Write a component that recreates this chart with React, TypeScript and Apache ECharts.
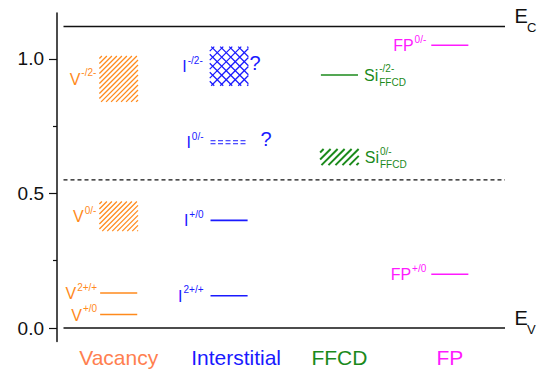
import { useEffect, useRef } from 'react';
import * as echarts from 'echarts';

const FONT = '"Liberation Sans", Arial, Helvetica, sans-serif';

// Defect families along the x axis
const categories = ['Vacancy', 'Interstitial', 'FFCD', 'FP'];

// Energy axis (eV above the valence band edge)
const yLabelValues = [0, 0.5, 1.0];
const yMinorTickValues = [0.25, 0.75];

// Band edges and midgap reference
const bandEdges = [
  { sub: 'C', energy: 1.12 },
  { sub: 'V', energy: 0 },
];
const midgapEnergy = 0.55;

type Level = { lo: number; hi: number; main: string; sup: string; sub?: string; uncertain?: boolean };

// A level with lo === hi is a sharp level; otherwise it is an energy range
const vacancyLevels: Level[] = [
  { lo: 0.84, hi: 1.01, main: 'V', sup: '-/2-' },
  { lo: 0.36, hi: 0.47, main: 'V', sup: '0/-' },
  { lo: 0.13, hi: 0.13, main: 'V', sup: '2+/+' },
  { lo: 0.05, hi: 0.05, main: 'V', sup: '+/0' },
];
const interstitialLevels: Level[] = [
  { lo: 0.9, hi: 1.045, main: 'I', sup: '-/2-', uncertain: true },
  { lo: 0.69, hi: 0.69, main: 'I', sup: '0/-', uncertain: true },
  { lo: 0.4, hi: 0.4, main: 'I', sup: '+/0' },
  { lo: 0.12, hi: 0.12, main: 'I', sup: '2+/+' },
];
const ffcdLevels: Level[] = [
  { lo: 0.94, hi: 0.94, main: 'Si', sup: '-/2-', sub: 'FFCD' },
  { lo: 0.605, hi: 0.665, main: 'Si', sup: '0/-', sub: 'FFCD' },
];
const fpLevels: Level[] = [
  { lo: 1.05, hi: 1.05, main: 'FP', sup: '0/-' },
  { lo: 0.2, hi: 0.2, main: 'FP', sup: '+/0' },
];

const levelsByCategory = [vacancyLevels, interstitialLevels, ffcdLevels, fpLevels];

// Presentation per family
const categoryLabelColors = ['#ff7f50', '#1a1aff', '#1b8a1b', '#ff1aff'];
const markColors = ['#ff8a1c', '#1a1aff', '#1b8a1b', '#ff1aff'];
const rangeFill = ['hatch', 'cross', 'hatchBold', 'hatch'];
const labelSide = ['left', 'left', 'right', 'left'];
const labelGap = [3, 7, 6, 5];

let measureCtx: CanvasRenderingContext2D | null = null;
function textWidth(s: string, size: number) {
  if (!measureCtx) measureCtx = document.createElement('canvas').getContext('2d');
  if (!measureCtx) return s.length * size * 0.55;
  measureCtx.font = `${size}px ${FONT}`;
  return measureCtx.measureText(s).width;
}

function hatch(x0: number, y0: number, x1: number, y1: number, step: number, dir: number, style: any) {
  const out: any[] = [];
  if (dir > 0) {
    // "/" strokes: x + y = c
    for (let c = x0 + y0 + step / 2; c < x1 + y1; c += step) {
      const xa = Math.max(x0, c - y1);
      const xb = Math.min(x1, c - y0);
      if (xb - xa < 0.5) continue;
      out.push({ type: 'line', shape: { x1: xa, y1: c - xa, x2: xb, y2: c - xb }, style });
    }
  } else {
    // "\" strokes: x - y = c
    for (let c = x0 - y1 + step / 2; c < x1 - y0; c += step) {
      const xa = Math.max(x0, c + y0);
      const xb = Math.min(x1, c + y1);
      if (xb - xa < 0.5) continue;
      out.push({ type: 'line', shape: { x1: xa, y1: xa - c, x2: xb, y2: xb - c }, style });
    }
  }
  return out;
}

function txt(x: number, y: number, text: string, size: number, color: string, align = 'left') {
  return {
    type: 'text',
    x,
    y,
    style: { text, fill: color, fontSize: size, fontFamily: FONT, align, verticalAlign: 'middle' },
  };
}

const levelRows: number[][] = [];
levelsByCategory.forEach((levels, ci) =>
  levels.forEach((lv, k) => levelRows.push([ci, lv.lo, lv.hi, k]))
);

const edgeRows = bandEdges.map((e, i) => [0, e.energy, i]);

export default function App() {
  const ref = useRef<HTMLDivElement>(null);

  useEffect(() => {
    if (!ref.current) return;
    const chart = echarts.init(ref.current, null, { renderer: 'svg' });

    const renderLevel = (_params: any, api: any) => {
      const ci = api.value(0);
      const lo = api.value(1);
      const hi = api.value(2);
      const lv = levelsByCategory[ci][api.value(3)];
      const [cx, yLo] = api.coord([ci, lo]);
      const yHi = api.coord([ci, hi])[1];
      const band = api.size([1, 0])[0];
      const color = markColors[ci];
      const children: any[] = [];
      const isRange = hi > lo;
      const half = band * (isRange ? 0.175 : 0.168);
      const x0 = cx - half;
      const x1 = cx + half;
      const yMid = (yLo + yHi) / 2;

      if (isRange) {
        const kind = rangeFill[ci];
        if (kind === 'cross') {
          const st = { stroke: color, lineWidth: 1.3 };
          children.push(...hatch(x0, yHi, x1, yLo, 9, 1, st), ...hatch(x0, yHi, x1, yLo, 9, -1, st));
        } else if (kind === 'hatchBold') {
          children.push(...hatch(x0, yHi, x1, yLo, 7, 1, { stroke: color, lineWidth: 2 }));
        } else {
          children.push(...hatch(x0, yHi, x1, yLo, 5, 1, { stroke: color, lineWidth: 1.3 }));
        }
      } else if (lv.uncertain) {
        const st = { stroke: color, lineWidth: 1, lineDash: [5, 2.5] };
        children.push(
          { type: 'line', shape: { x1: x0, y1: yMid - 1.5, x2: x1, y2: yMid - 1.5 }, style: st },
          { type: 'line', shape: { x1: x0, y1: yMid + 1.5, x2: x1, y2: yMid + 1.5 }, style: st }
        );
      } else {
        children.push({
          type: 'line',
          shape: { x1: x0, y1: yMid, x2: x1, y2: yMid },
          style: { stroke: color, lineWidth: 1.6 },
        });
      }

      // Label: main symbol with a superscript charge state and optional subscript
      const mainSize = 16;
      const smallSize = 10;
      const mainW = textWidth(lv.main, mainSize);
      const tailW = Math.max(textWidth(lv.sup, smallSize), lv.sub ? textWidth(lv.sub, smallSize) : 0);
      const start =
        labelSide[ci] === 'left' ? x0 - labelGap[ci] - (mainW + 1 + tailW) : x1 + labelGap[ci];
      children.push(txt(start, yMid + 0.5, lv.main, mainSize, color));
      children.push(txt(start + mainW + 1, yMid - 6, lv.sup, smallSize, color));
      if (lv.sub) children.push(txt(start + mainW + 1, yMid + 7.5, lv.sub, smallSize, color));

      if (lv.uncertain) {
        children.push(txt(x1 + (isRange ? 1 : 13), yMid - 3, '?', 20, color));
      }
      return { type: 'group', children };
    };

    const renderEdge = (params: any, api: any) => {
      const e = bandEdges[api.value(2)];
      const y = api.coord([0, api.value(1)])[1];
      const cs = params.coordSys;
      const xr = cs.x + cs.width;
      return {
        type: 'group',
        children: [
          { type: 'line', shape: { x1: cs.x, y1: y, x2: xr, y2: y }, style: { stroke: '#111', lineWidth: 1.5 } },
          txt(xr + 9.5, y - 10, 'E', 20, '#111'),
          txt(xr + 22, y + 1, e.sub, 13, '#111'),
        ],
      };
    };

    const renderMidgap = (params: any, api: any) => {
      const y = api.coord([0, api.value(1)])[1];
      const cs = params.coordSys;
      return {
        type: 'line',
        shape: { x1: cs.x, y1: y, x2: cs.x + cs.width, y2: y },
        style: { stroke: '#111', lineWidth: 1.2, lineDash: [4, 3] },
      };
    };

    const yMin = -0.05;
    const yMax = 1.17;

    chart.setOption({
      animation: false,
      grid: { left: 63.5, right: 34, top: 13, bottom: 28.5 },
      xAxis: {
        type: 'category',
        data: categories,
        axisLine: { show: false },
        axisTick: { show: false },
        axisLabel: {
          margin: 5,
          formatter: (v: string, i: number) => `{c${i}|${v}}`,
          rich: Object.fromEntries(
            categories.map((_, i) => [
              `c${i}`,
              {
                color: categoryLabelColors[i],
                fontSize: 21,
                fontFamily: FONT,
                padding: i === 1 ? [0, 0, 0, 14] : 0,
              },
            ])
          ),
        },
      },
      yAxis: [
        {
          type: 'value',
          min: yMin,
          max: yMax,
          offset: 6.5,
          splitLine: { show: false },
          axisLine: { show: true, lineStyle: { color: '#111', width: 1.5 } },
          axisTick: { show: true, length: 8, customValues: yLabelValues, lineStyle: { color: '#111', width: 1.2 } },
          axisLabel: {
            customValues: yLabelValues,
            formatter: (v: number) => v.toFixed(1),
            fontSize: 19,
            fontFamily: FONT,
            color: '#111',
            margin: 13,
          },
        },
        {
          type: 'value',
          min: yMin,
          max: yMax,
          offset: 6.5,
          position: 'left',
          splitLine: { show: false },
          axisLine: { show: false },
          axisLabel: { show: false },
          axisTick: { show: true, length: 4, customValues: yMinorTickValues, lineStyle: { color: '#111', width: 1.2 } },
        },
      ],
      series: [
        {
          type: 'custom',
          renderItem: renderMidgap,
          data: [[0, midgapEnergy]],
          encode: { x: 0, y: 1 },
          silent: true,
        },
        {
          type: 'custom',
          renderItem: renderEdge,
          data: edgeRows,
          encode: { x: 0, y: 1 },
          silent: true,
        },
        {
          type: 'custom',
          renderItem: renderLevel,
          data: levelRows,
          encode: { x: 0, y: [1, 2] },
          silent: true,
        },
      ],
    });

    return () => chart.dispose();
  }, []);

  return (
    <div
      ref={ref}
      style={{ position: 'fixed', left: 0, top: 0, width: 539, height: 370, background: '#fff' }}
    />
  );
}
